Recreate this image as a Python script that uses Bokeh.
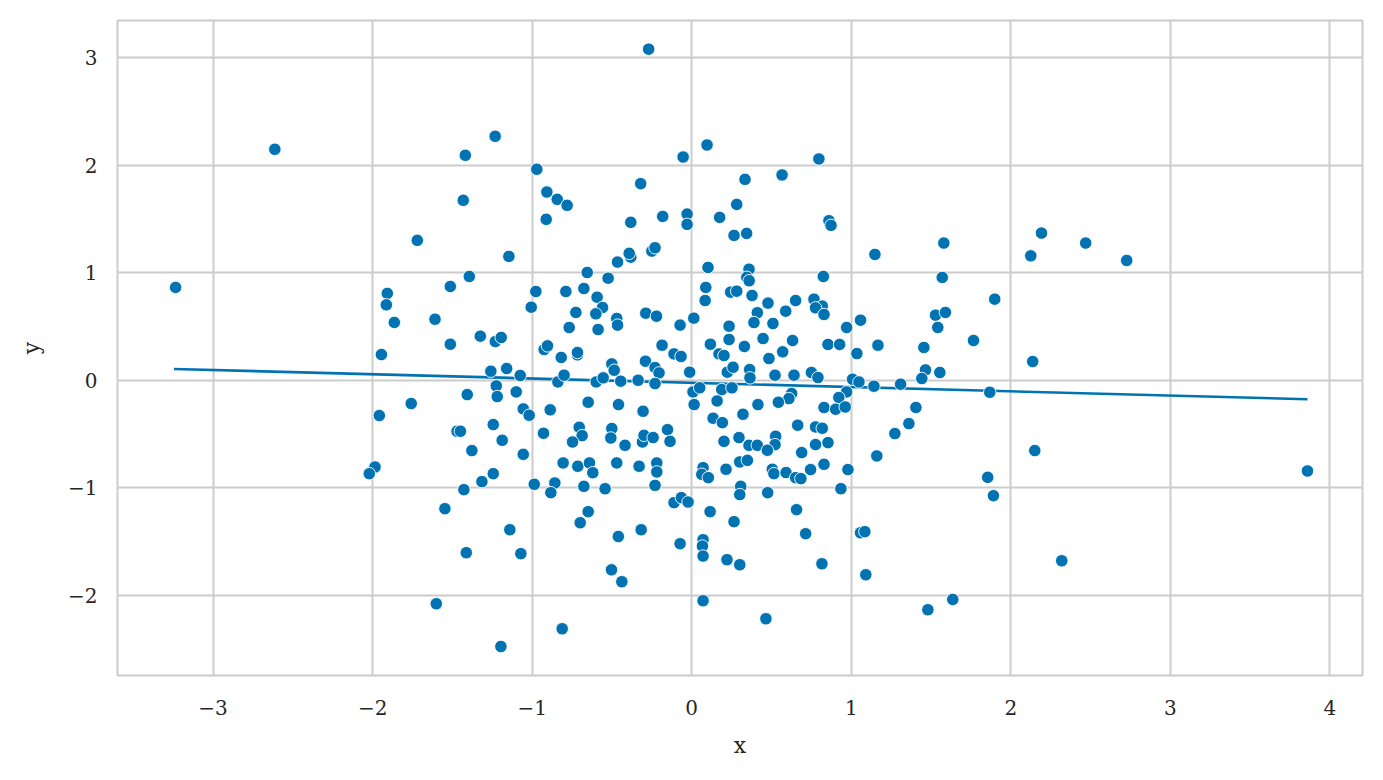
from bokeh.plotting import figure
from bokeh.models import Range1d, FixedTicker, CustomJSTickFormatter
from bokeh.embed import file_html
from bokeh.resources import INLINE

# --- data ---
xs = [
    -2.613, -1.720,
    -0.27, -1.232, -1.419, -0.971, -1.432, -0.908, -0.843, -0.781, -0.912, -0.32, -0.382,
    0.096, -0.054, 0.797, 0.334, 0.566, 0.282, -0.182, -0.029, -0.029, 0.175, 0.265, 0.344, 0.860, 0.873,
    1.580, 2.192, 2.469, 2.125, 2.726, 1.148,
    -3.235, -1.908, -1.914, -1.864, -1.945, -1.758, -1.958, -1.985, -2.021,
    -1.146, -1.394, -1.513, -1.609, -1.513, -1.325, -1.231, -1.194, -0.977, -1.006,
    -0.655, -0.524, -0.465, -0.789, -0.676, -0.593, -0.559, -0.601, -0.726, -0.768,
    -0.587, -0.925, -0.904, -0.818, -0.716, -0.716, -0.501, -0.486, -1.259, -1.160,
    -1.075, -1.225, -1.219, -1.407, -1.100, -0.839, -0.800, -0.599, -0.555, -0.649,
    -1.056, -1.019, -0.887, -1.244, -1.471, -1.450, -1.188, -1.378, -1.056, -0.929,
    -0.705, -0.687, -0.747, -0.501, -0.507,
    -1.244, -1.315, -1.428, -1.547, -0.987, -0.858, -0.883, -0.806, -0.714, -0.641,
    -0.620, -0.47, -0.676, -0.543, -0.649, -0.699, -1.140, -1.413, -1.071, -0.46,
    -0.503, -1.601, -0.812, -1.196,
    -0.382, -0.392, -0.250, -0.230, 0.102, 0.359, 0.345, 0.360, 0.088, 0.084,
    0.244, 0.282, 0.378, 0.478, 0.651, 0.589, 0.411, 0.390, 0.509, -0.288,
    -0.221, -0.470, -0.465, -0.073, 0.013, 0.234, 0.234, 0.117, 0.330, 0.447,
    0.632, 0.570, 0.484, -0.186, -0.111, -0.067, 0.171, 0.202, -0.290, -0.230,
    -0.205, -0.445, -0.336, -0.230, -0.013, 0.008, 0.050, 0.015, 0.223, 0.259,
    0.188, 0.252, 0.159, 0.363, 0.365, 0.522, 0.641, 0.750, 0.626, 0.609,
    0.543, 0.415, 0.321, 0.134, 0.192, -0.459, -0.305, -0.418, -0.309, -0.299,
    -0.242, -0.152, -0.136, 0.202, 0.296, 0.359, 0.411, 0.526, 0.522, 0.474,
    0.664, 0.689,
    -0.330, -0.219, -0.219, -0.230, 0.071, 0.063, 0.104, 0.215, 0.301, 0.349,
    0.505, 0.515, 0.591, 0.651, 0.684, 0.307, 0.301, 0.476, -0.111, -0.065,
    -0.023, 0.115, 0.265, 0.657, 0.714, -0.317, -0.073, 0.071, 0.067, 0.071,
    0.221, 0.301, -0.438, 0.071, 0.465,
    0.825, 1.570, 1.899, 0.766, 0.818, 0.776, 0.829, 1.058, 0.971, 1.528,
    1.590, 1.542, 1.766, 0.854, 0.927, 1.167, 1.035, 1.455, 1.465, 1.442,
    1.555, 0.791, 1.008, 1.048, 1.142, 1.309, 1.868, 0.971, 0.922, 0.829,
    0.902, 0.962, 1.405, 1.361, 1.273, 0.776, 0.818, 0.776, 0.854, 1.160,
    0.745, 0.829, 0.979, 0.935, 1.855, 1.891, 1.058, 1.085, 0.816, 1.091,
    1.636, 1.480,
    2.137, 2.150, 3.859, 2.319,
]
ys = [
    2.150, 1.302,
    3.082, 2.271, 2.094, 1.964, 1.675, 1.752, 1.684, 1.628, 1.498, 1.83, 1.470,
    2.190, 2.078, 2.060, 1.870, 1.911, 1.637, 1.525, 1.547, 1.451, 1.516, 1.348, 1.367, 1.485, 1.442,
    1.277, 1.370, 1.277, 1.158, 1.115, 1.171,
    0.864, 0.808, 0.702, 0.538, 0.239, -0.217, -0.329, -0.808, -0.870,
    1.153, 0.966, 0.873, 0.568, 0.335, 0.410, 0.360, 0.398, 0.826, 0.680,
    1.003, 0.950, 1.100, 0.826, 0.854, 0.773, 0.677, 0.618, 0.631, 0.491,
    0.472, 0.286, 0.320, 0.212, 0.236, 0.258, 0.152, 0.093, 0.084, 0.109,
    0.044, -0.053, -0.152, -0.134, -0.109, -0.016, 0.047, -0.016, 0.022, -0.205,
    -0.267, -0.326, -0.276, -0.413, -0.475, -0.475, -0.559, -0.655, -0.690, -0.494,
    -0.438, -0.516, -0.575, -0.450, -0.538,
    -0.870, -0.944, -1.019, -1.196, -0.969, -0.957, -1.047, -0.770, -0.801, -0.770,
    -0.861, -0.77, -0.988, -1.010, -1.224, -1.327, -1.392, -1.606, -1.615, -1.455,
    -1.765, -2.081, -2.314, -2.479,
    1.146, 1.181, 1.202, 1.233, 1.050, 1.034, 0.958, 0.926, 0.864, 0.742,
    0.820, 0.829, 0.789, 0.718, 0.742, 0.643, 0.628, 0.537, 0.528, 0.624,
    0.596, 0.575, 0.513, 0.513, 0.578, 0.503, 0.379, 0.335, 0.314, 0.388,
    0.370, 0.264, 0.202, 0.326, 0.245, 0.221, 0.245, 0.230, 0.177, 0.118,
    0.068, -0.009, 0.0, -0.031, 0.075, -0.109, -0.071, -0.227, 0.075, 0.121,
    -0.087, -0.071, -0.193, 0.099, 0.022, 0.047, 0.047, 0.072, -0.124, -0.171,
    -0.205, -0.227, -0.317, -0.354, -0.395, -0.227, -0.289, -0.606, -0.575, -0.513,
    -0.534, -0.460, -0.569, -0.569, -0.534, -0.606, -0.606, -0.522, -0.600, -0.652,
    -0.419, -0.674,
    -0.801, -0.770, -0.854, -0.979, -0.814, -0.876, -0.907, -0.829, -0.761, -0.746,
    -0.829, -0.870, -0.860, -0.907, -0.916, -0.988, -1.065, -1.047, -1.140, -1.093,
    -1.134, -1.224, -1.317, -1.205, -1.429, -1.392, -1.522, -1.485, -1.544, -1.637,
    -1.671, -1.718, -1.876, -2.053, -2.221,
    0.966, 0.957, 0.755, 0.755, 0.690, 0.674, 0.612, 0.559, 0.491, 0.606,
    0.631, 0.491, 0.370, 0.333, 0.333, 0.326, 0.248, 0.305, 0.096, 0.016,
    0.072, 0.025, 0.009, -0.016, -0.056, -0.037, -0.112, -0.109, -0.161, -0.254,
    -0.270, -0.249, -0.254, -0.404, -0.497, -0.435, -0.447, -0.599, -0.581, -0.705,
    -0.832, -0.783, -0.832, -1.010, -0.904, -1.075, -1.420, -1.410, -1.709, -1.811,
    -2.041, -2.137,
    0.174, -0.655, -0.845, -1.681,
]

# fitted regression line (end points)
fit_x = [-3.245, 3.859]
fit_y = [0.105, -0.177]

x_ticks = [-3, -2, -1, 0, 1, 2, 3, 4]
y_ticks = [-2, -1, 0, 1, 2, 3]

BLUE = "#0173b2"
GRID = "#cccccc"
TEXT = "#262626"
FONT = "DejaVu Serif"

p = figure(
    width=1375, height=772,
    x_range=Range1d(-3.599, 4.204), y_range=Range1d(-2.749, 3.349),
    output_backend="svg", toolbar_location=None,
    min_border_left=117, min_border_right=13, min_border_top=20, min_border_bottom=97,
    background_fill_color="white", border_fill_color="white",
)

p.outline_line_color = GRID
p.outline_line_width = 2

minus_fmt = CustomJSTickFormatter(code="""
    return tick < 0 ? "\\u2212" + Math.abs(tick) : tick.toString();
""")

for ax, ticks, label in ((p.xaxis[0], x_ticks, "x"), (p.yaxis[0], y_ticks, "y")):
    ax.ticker = FixedTicker(ticks=ticks)
    ax.formatter = minus_fmt
    ax.axis_label = label
    ax.axis_line_color = None
    ax.major_tick_line_color = None
    ax.minor_tick_line_color = None
    ax.major_tick_out = 0
    ax.major_tick_in = 0
    ax.major_label_text_font = FONT
    ax.major_label_text_font_size = "20px"
    ax.major_label_text_color = TEXT
    ax.axis_label_text_font = FONT
    ax.axis_label_text_font_size = "22px"
    ax.axis_label_text_font_style = "normal"
    ax.axis_label_text_color = TEXT

p.xaxis[0].major_label_standoff = 24
p.xaxis[0].axis_label_standoff = 15
p.yaxis[0].major_label_standoff = 20
p.yaxis[0].axis_label_standoff = 21

p.xgrid[0].ticker = FixedTicker(ticks=x_ticks)
p.ygrid[0].ticker = FixedTicker(ticks=y_ticks)
for g in (p.xgrid[0], p.ygrid[0]):
    g.grid_line_color = GRID
    g.grid_line_width = 2

p.line(fit_x, fit_y, line_color=BLUE, line_width=2.6)
p.scatter(xs, ys, size=12.5, fill_color=BLUE, line_color="white", line_width=0.9)

open("out.html", "w").write(file_html(p, INLINE))
